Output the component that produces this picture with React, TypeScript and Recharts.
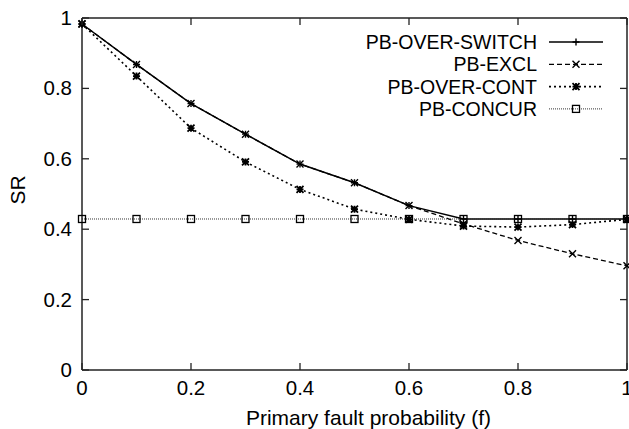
import { LineChart, Line, XAxis, YAxis, Legend, ReferenceLine } from 'recharts';

const fVals = [0, 0.1, 0.2, 0.3, 0.4, 0.5, 0.6, 0.7, 0.8, 0.9, 1];
const switchVals = [0.983, 0.868, 0.757, 0.67, 0.585, 0.532, 0.467, 0.429, 0.429, 0.429, 0.429];
const exclVals = [0.983, 0.868, 0.757, 0.67, 0.585, 0.532, 0.467, 0.415, 0.368, 0.33, 0.296];
const contVals = [0.983, 0.835, 0.687, 0.591, 0.513, 0.457, 0.428, 0.409, 0.406, 0.413, 0.428];
const concurVals = [0.429, 0.429, 0.429, 0.429, 0.429, 0.429, 0.429, 0.429, 0.429, 0.429, 0.429];

const seriesNames = ['PB-OVER-SWITCH', 'PB-EXCL', 'PB-OVER-CONT', 'PB-CONCUR'];
const xTicks = [0, 0.2, 0.4, 0.6, 0.8, 1];
const yTicks = [0, 0.2, 0.4, 0.6, 0.8, 1];

const data = fVals.map((f, i) => ({
  f,
  sw: switchVals[i],
  ex: exclVals[i],
  co: contVals[i],
  cc: concurVals[i],
}));

const FONT = '"Liberation Sans", Arial, Helvetica, sans-serif';
const W = 629;
const H = 429;
// plot box inside the svg
const TOP = 18;
const BOTTOM = 370;
const LEFT = 82;
const RIGHT = 627;
const TICK = 7;

// line look per series, gnuplot style
const styles = [
  { key: 'sw', mark: 'plus', dash: undefined, width: 1.5, color: '#000' },
  { key: 'ex', mark: 'cross', dash: '5 3', width: 1.3, color: '#000' },
  { key: 'co', mark: 'star', dash: '2 3', width: 1.6, color: '#000' },
  { key: 'cc', mark: 'square', dash: '1 1', width: 1, color: '#333' },
];

function Mark({ kind, cx, cy }: { kind: string; cx: number; cy: number }) {
  const s = 3.5;
  const plus = `M${cx - s},${cy}h${2 * s}M${cx},${cy - s}v${2 * s}`;
  const cross = `M${cx - s},${cy - s}l${2 * s},${2 * s}M${cx - s},${cy + s}l${2 * s},${-2 * s}`;
  if (kind === 'square')
    return <rect x={cx - s} y={cy - s} width={2 * s} height={2 * s} fill="none" stroke="#000" strokeWidth={1.3} />;
  const d = kind === 'plus' ? plus : kind === 'cross' ? cross : plus + cross;
  return <path d={d} stroke="#000" strokeWidth={kind === 'star' ? 1.8 : 1.4} fill="none" />;
}

// inward ticks on both sides, like gnuplot's mirrored tics
function XTick(props: any) {
  const x = props.payload.coordinate;
  return (
    <g>
      <line x1={x} x2={x} y1={BOTTOM} y2={BOTTOM - TICK} stroke="#222" strokeWidth={1.3} />
      <line x1={x} x2={x} y1={TOP} y2={TOP + TICK} stroke="#222" strokeWidth={1.3} />
      <text x={x} y={BOTTOM + 25} textAnchor="middle" fontSize={20.5} fontFamily={FONT} fill="#000">
        {String(props.payload.value)}
      </text>
    </g>
  );
}

function YTick(props: any) {
  const y = props.payload.coordinate;
  return (
    <g>
      <line x1={LEFT} x2={LEFT + TICK} y1={y} y2={y} stroke="#222" strokeWidth={1.3} />
      <line x1={RIGHT} x2={RIGHT - TICK} y1={y} y2={y} stroke="#222" strokeWidth={1.3} />
      <text x={LEFT - 10} y={y + 7} textAnchor="end" fontSize={20.5} fontFamily={FONT} fill="#000">
        {String(props.payload.value)}
      </text>
    </g>
  );
}

function LegendBox() {
  return (
    <svg width={300} height={100} style={{ display: 'block' }}>
      {seriesNames.map((name, i) => {
        const st = styles[i];
        const y = 14 + i * 22.3;
        return (
          <g key={name}>
            <text x={219} y={y + 7} textAnchor="end" fontSize={19.5} fontFamily={FONT} fill="#000">
              {name}
            </text>
            <line x1={231} x2={285} y1={y} y2={y} stroke={st.color} strokeWidth={st.width} strokeDasharray={st.dash} />
            <Mark kind={st.mark} cx={258} cy={y} />
          </g>
        );
      })}
    </svg>
  );
}

export default function App() {
  return (
    <div style={{ position: 'fixed', left: 0, top: 0, width: W, height: H, background: '#fff', fontFamily: FONT }}>
      <LineChart width={W} height={H} data={data} margin={{ top: TOP, right: W - RIGHT, bottom: 0, left: 0 }}>
        <XAxis
          dataKey="f"
          type="number"
          domain={[0, 1]}
          ticks={xTicks}
          tickLine={false}
          height={H - BOTTOM}
          stroke="#222"
          strokeWidth={1.5}
          tick={<XTick />}
          label={{ value: 'Primary fault probability (f)', position: 'insideBottom', offset: 4, dx: 14, fontSize: 21, fill: '#000', fontFamily: FONT }}
        />
        <YAxis
          type="number"
          domain={[0, 1]}
          ticks={yTicks}
          tickLine={false}
          width={LEFT}
          stroke="#222"
          strokeWidth={1.5}
          tick={<YTick />}
          label={{
            content: () => (
              <text x={25} y={190} transform="rotate(-90 25 190)" textAnchor="middle" fontSize={21} fontFamily={FONT} fill="#000">
                SR
              </text>
            ),
          }}
        />
        <ReferenceLine x={1} stroke="#222" strokeWidth={1.5} />
        <ReferenceLine y={1} stroke="#222" strokeWidth={1.5} />
        {styles.map((st) => (
          <Line
            key={st.key}
            dataKey={st.key}
            type="linear"
            stroke={st.color}
            strokeWidth={st.width}
            strokeDasharray={st.dash}
            isAnimationActive={false}
            dot={(p: any) => <Mark key={`${st.key}-${p.index}`} kind={st.mark} cx={p.cx} cy={p.cy} />}
            activeDot={false}
          />
        ))}
        <Legend
          layout="vertical"
          align="center"
          verticalAlign="middle"
          wrapperStyle={{ position: 'absolute', top: 28, left: 318, width: 300, height: 100 }}
          content={() => <LegendBox />}
        />
      </LineChart>
    </div>
  );
}
